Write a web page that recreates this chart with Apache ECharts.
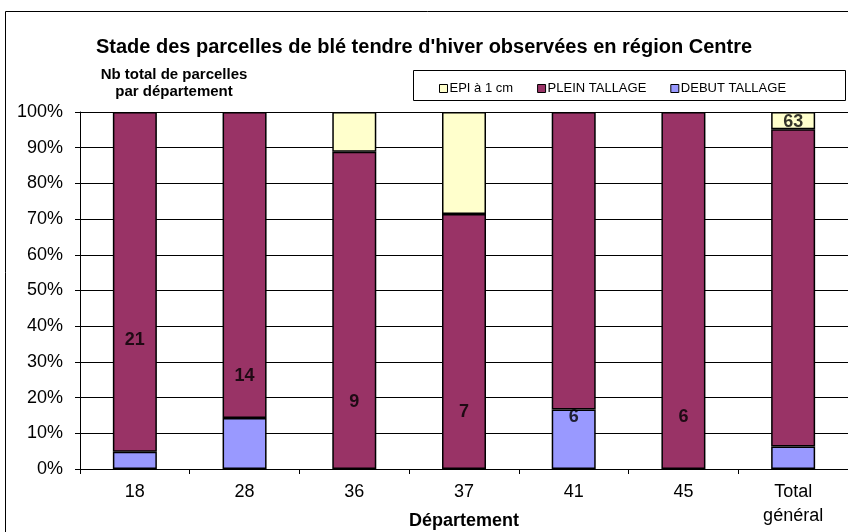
<!DOCTYPE html>
<html>
<head>
<meta charset="utf-8">
<script src="https://cdn.jsdelivr.net/npm/echarts@6/dist/echarts.min.js"></script>
<style>
  html, body { margin: 0; padding: 0; background: #fff; }
  #chart { width: 848px; height: 532px; }
</style>
</head>
<body>
<div id="chart"></div>
<script>
  const departements = ["18", "28", "36", "37", "41", "45", "Total\ngénéral"];
  // parts en % par stade
  const debutTallage = [4.8, 14.3, 0, 0, 16.7, 0, 6.3];
  const pleinTallage = [95.2, 85.7, 88.9, 71.4, 83.3, 100, 88.9];
  const epi1cm = [0, 0, 11.1, 28.6, 0, 0, 4.8];
  // nb total de parcelles par departement
  const nbParcelles = [21, 14, 9, 7, 6, 6, 63];

  const font = "Liberation Sans, Arial, sans-serif";
  const chart = echarts.init(document.getElementById("chart"));

  const barStyle = (color) => ({ color: color, borderColor: "#000", borderWidth: 1.5 });
  // pas de barre pour les parts nulles
  const noZero = (arr) => arr.map((v) => (v === 0 ? "-" : v));

  chart.setOption({
    backgroundColor: "#fff",
    animation: false,
    textStyle: { fontFamily: font },
    title: {
      text: "Stade des parcelles de blé tendre d'hiver observées en région Centre",
      left: "center",
      top: 32,
      textStyle: { fontFamily: font, fontSize: 20, fontWeight: "bold", color: "#000" },
    },
    graphic: [
      {
        type: "rect",
        shape: { x: 5.5, y: 11.5, width: 900, height: 600 },
        style: { fill: "none", stroke: "#000", lineWidth: 1 },
        silent: true,
      },
      {
        type: "rect",
        shape: { x: 413.5, y: 70.5, width: 432, height: 30 },
        style: { fill: "#fff", stroke: "#000", lineWidth: 1 },
        silent: true,
      },
      {
        type: "text",
        x: 174,
        y: 66,
        style: {
          text: "Nb total de parcelles\npar département",
          font: "bold 15px " + font,
          fill: "#000",
          align: "center",
          lineHeight: 17,
        },
      },
    ],
    legend: {
      left: 434,
      top: 77,
      itemWidth: 8,
      itemHeight: 8,
      itemGap: 24,
      icon: "rect",
      data: ["EPI à 1 cm", "PLEIN TALLAGE", "DEBUT TALLAGE"],
      textStyle: { fontFamily: font, fontSize: 13, color: "#000", padding: [0, 0, 0, -3] },
      itemStyle: { borderColor: "#000", borderWidth: 1 },
    },
    grid: { left: 80, right: 0, top: 112, bottom: 63, outerBoundsMode: "none" },
    xAxis: {
      type: "category",
      data: departements,
      name: "Département",
      nameLocation: "middle",
      nameGap: 43,
      nameMoveOverlap: false,
      nameTextStyle: { fontFamily: font, fontSize: 18, fontWeight: "bold", color: "#000" },
      axisLine: { lineStyle: { color: "#000", width: 1 } },
      axisTick: { show: true, alignWithLabel: false, length: 5, lineStyle: { color: "#000" } },
      axisLabel: { fontFamily: font, fontSize: 18, color: "#000", margin: 11, lineHeight: 24 },
    },
    yAxis: [
      {
        type: "value",
        min: 0,
        max: 100,
        interval: 10,
        axisLine: { show: true, lineStyle: { color: "#000", width: 1 } },
        axisTick: { show: true, length: 5, lineStyle: { color: "#000" } },
        axisLabel: {
          fontFamily: font,
          fontSize: 18,
          color: "#000",
          margin: 17,
          formatter: (v) => v + "%",
        },
        splitLine: { show: true, lineStyle: { color: "#000", width: 1 } },
      },
      {
        type: "value",
        min: -4,
        max: 65,
        show: false,
        splitLine: { show: false },
      },
    ],
    series: [
      {
        name: "DEBUT TALLAGE",
        type: "bar",
        stack: "stade",
        barWidth: 44,
        data: noZero(debutTallage),
        itemStyle: barStyle("#9999FF"),
      },
      {
        name: "PLEIN TALLAGE",
        type: "bar",
        stack: "stade",
        barWidth: 44,
        data: noZero(pleinTallage),
        itemStyle: barStyle("#993366"),
      },
      {
        name: "EPI à 1 cm",
        type: "bar",
        stack: "stade",
        barWidth: 44,
        data: noZero(epi1cm),
        itemStyle: barStyle("#FFFFCC"),
      },
      {
        name: "Nb parcelles",
        type: "scatter",
        yAxisIndex: 1,
        symbolSize: 0,
        z: 10,
        data: nbParcelles,
        label: {
          show: true,
          position: "inside",
          formatter: (p) => p.value,
          fontFamily: font,
          fontSize: 18,
          fontWeight: "bold",
          color: "#000",
        },
      },
    ],
  });
</script>
</body>
</html>
